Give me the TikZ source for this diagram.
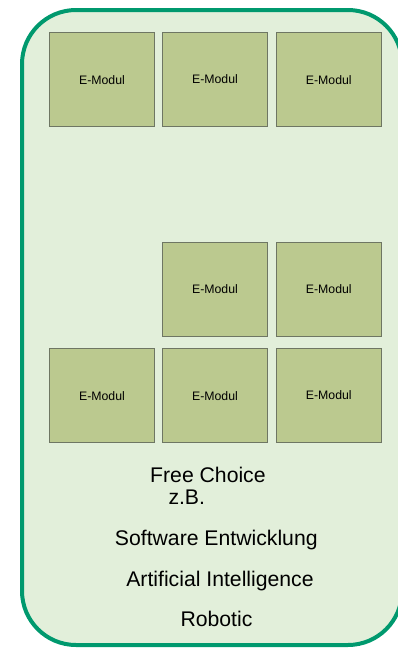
\documentclass[tikz,border=0pt]{standalone}
\usepackage{fontspec}
\setmainfont{Liberation Sans}
\definecolor{outerfill}{HTML}{E2EFDA}
\definecolor{outerline}{HTML}{00996E}
\definecolor{boxfill}{HTML}{BBC98F}
\definecolor{boxline}{HTML}{6E7663}
\begin{document}
\begin{tikzpicture}[x=1pt,y=-1pt,
  emodul/.style={draw=boxline, line width=0.9pt, fill=boxfill, minimum width=105.5pt, minimum height=94pt, inner sep=0pt, font=\fontsize{12.3}{14}\selectfont},
  bigtext/.style={inner sep=0pt, font=\fontsize{21.2}{24}\selectfont}]
\useasboundingbox (0,0) rectangle (397,648);
\draw[draw=outerline, fill=outerfill, line width=4pt, rounded corners=54pt] (22,10) rectangle (402,645);
\node[emodul] (b1) at (102,79.8) {E-Modul};
\node[emodul] (b2) at (215,79) {E-Modul};
\node[emodul] (b3) at (328.8,79.7) {E-Modul};
\node[emodul] (b4) at (215,289.5) {E-Modul};
\node[emodul] (b5) at (328.8,289) {E-Modul};
\node[emodul] (b6) at (102,395.8) {E-Modul};
\node[emodul] (b7) at (215,395.8) {E-Modul};
\node[emodul] (b8) at (328.8,395.5) {E-Modul};
\node[bigtext, anchor=base west] (t1) at (150,482.7) {Free Choice};
\node[bigtext, anchor=base west] (t2) at (168.3,504) {z.B.};
\node[bigtext, anchor=base] (t3) at (216.3,545) {Software Entwicklung};
\node[bigtext, anchor=base] (t4) at (220,586) {Artificial Intelligence};
\node[bigtext, anchor=base] (t5) at (216.5,626) {Robotic};
\end{tikzpicture}
\end{document}
